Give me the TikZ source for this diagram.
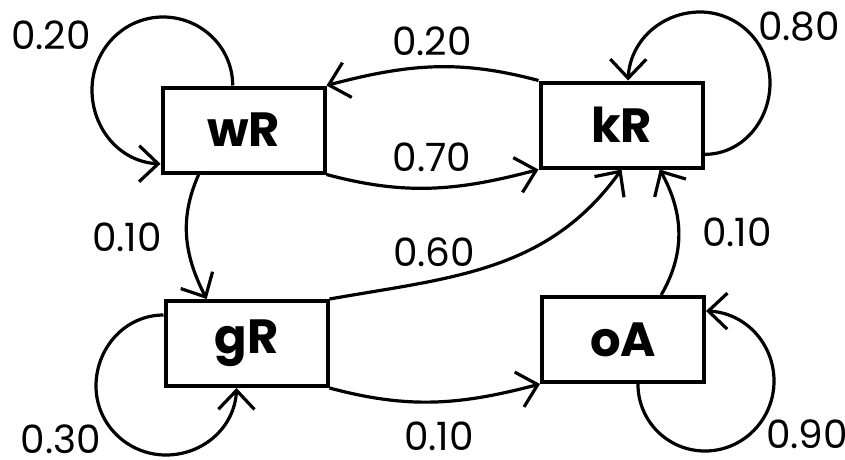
\documentclass[tikz,border=0pt]{standalone}
\usepackage{fontspec}
\setmainfont{Poppins}
\usetikzlibrary{arrows.meta,bending,calc}
\begin{document}
\begin{tikzpicture}[x=1pt,y=1pt,
  state/.style={draw, line width=4pt, minimum width=162pt, minimum height=85pt, inner sep=0pt,
    font=\fontsize{48}{48}\selectfont\bfseries},
  lbl/.style={font=\fontsize{39}{39}\selectfont, inner sep=0pt, text depth=0pt},
  edge/.style={line width=3.2pt, -{Straight Barb[length=19pt,width=36pt,flex]}},
]
\useasboundingbox (0,0) rectangle (845,459);
\node[state] (wR) at (243.5,329) {wR};
\node[state] (kR) at (621.5,334) {kR};
\node[state] (gR) at (246.5,115.5) {gR};
\node[state] (oA) at (623,119.5) {oA};

\draw[edge] (wR.south east) to[out=-15,in=195] (kR.south west);
\draw[edge] (kR.north west) to[out=165,in=15] (wR.north east);
\draw[edge] ($(wR.south west)!0.23!(wR.south east)$) to[out=246,in=118] ($(gR.north west)!0.26!(gR.north east)$);
\draw[edge] (gR.north east) to[out=10,in=235] (kR.south);
\draw[edge] ($(oA.north west)!0.73!(oA.north east)$) to[out=60,in=300] ($(kR.south west)!0.73!(kR.south east)$);
\draw[edge] (gR.south east) to[out=-15,in=195] (oA.south west);

% self loops
\coordinate (wRa) at (163,442);
\coordinate (wRb) at (92,369);
\draw[edge] ($(wR.north west)!0.435!(wR.north east)$) to[out=90,in=0] (wRa) to[out=180,in=90] (wRb) to[out=270,in=180] ($(wR.north west)!0.88!(wR.south west)$);
\coordinate (kRa) at (770,376);
\coordinate (kRb) at (700,447);
\draw[edge] ($(kR.north east)!0.83!(kR.south east)$) to[out=0,in=270] (kRa) to[out=90,in=0] (kRb) to[out=180,in=90] ($(kR.north west)!0.54!(kR.north east)$);
\coordinate (gRa) at (96,73);
\coordinate (gRb) at (166,4);
\draw[edge] ($(gR.north west)!0.18!(gR.south west)$) to[out=180,in=90] (gRa) to[out=270,in=180] (gRb) to[out=0,in=270] ($(gR.south west)!0.44!(gR.south east)$);
\coordinate (oAa) at (705,8);
\coordinate (oAb) at (774,78);
\draw[edge] ($(oA.south west)!0.59!(oA.south east)$) to[out=270,in=180] (oAa) to[out=0,in=270] (oAb) to[out=90,in=0] ($(oA.north east)!0.18!(oA.south east)$);

\node[lbl] (p1) at (51,424) {0.20};
\node[lbl] (p2) at (432,418) {0.20};
\node[lbl] (p3) at (799,433) {0.80};
\node[lbl] (p4) at (432,302) {0.70};
\node[lbl] (p5) at (127,222) {0.10};
\node[lbl] (p6) at (434,207) {0.60};
\node[lbl] (p7) at (737,227) {0.10};
\node[lbl] (p8) at (61,20) {0.30};
\node[lbl] (p9) at (439,23) {0.10};
\node[lbl] (p10) at (807,25) {0.90};
\end{tikzpicture}
\end{document}
